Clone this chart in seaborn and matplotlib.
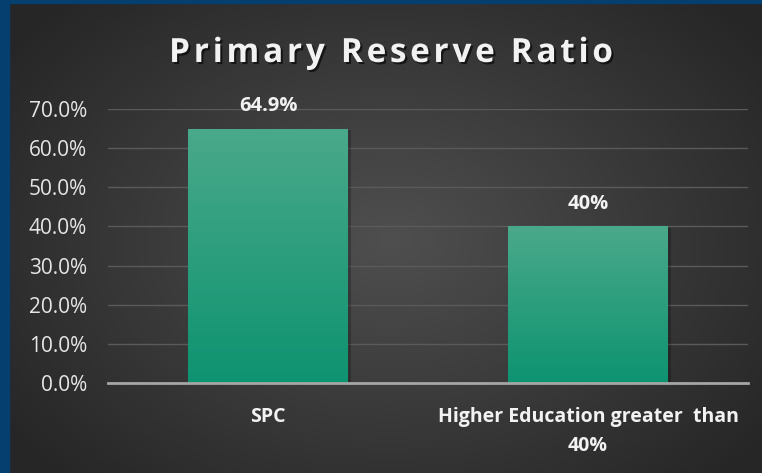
import numpy as np
import pandas as pd
import matplotlib
matplotlib.use("Agg")
import matplotlib.pyplot as plt
import seaborn as sns
from matplotlib import patheffects as pe
from matplotlib.patches import Rectangle

# data
title = "Primary Reserve Ratio"
categories = ["SPC", "Higher Education greater  than\n40%"]
values = [0.649, 0.40]
value_labels = ["64.9%", "40%"]
y_ticks = [0.0, 0.1, 0.2, 0.3, 0.4, 0.5, 0.6, 0.7]
y_tick_labels = ["0.0%", "10.0%", "20.0%", "30.0%", "40.0%", "50.0%", "60.0%", "70.0%"]

sns.set_theme(style="dark")
plt.rcParams["font.family"] = ["Open Sans", "DejaVu Sans"]

W, H = 762, 473
fig = plt.figure(figsize=(W / 100, H / 100), dpi=100)

# background: radial grey gradient + blue frame on left/top
bg = fig.add_axes([0, 0, 1, 1])
yy, xx = np.mgrid[0:H, 0:W]
r = np.sqrt(((xx - 390) / 470) ** 2 + ((yy - 240) / 330) ** 2)
shade = np.clip(0.31 - 0.16 * r, 0.15, 0.31)
bg.imshow(np.dstack([shade] * 3), extent=[0, W, H, 0], aspect="auto")
bg.add_patch(Rectangle((0, 0), 9, H, color="#053f70"))
bg.add_patch(Rectangle((0, 0), W, 3, color="#053f70"))
bg.set_xlim(0, W)
bg.set_ylim(H, 0)
bg.axis("off")

ax = fig.add_axes([108 / W, 90 / H, 640 / W, 274 / H])
ax.patch.set_alpha(0)

df = pd.DataFrame({"category": categories, "value": values})
sns.barplot(data=df, x="category", y="value", ax=ax, color="#1a9c78",
            width=0.5, saturation=1, linewidth=0, zorder=3)

# vertical gradient on each bar (lighter at top)
grad_cmap = matplotlib.colors.LinearSegmentedColormap.from_list(
    "g", ["#0e9370", "#4aa98a"])
for p in ax.patches:
    x0, y0 = p.get_x(), p.get_y()
    w, h = p.get_width(), p.get_height()
    p.set_edgecolor("none")
    p.set_path_effects([pe.SimplePatchShadow(offset=(2, -1), alpha=0.22,
                                             shadow_rgbFace="black"), pe.Normal()])
    im = ax.imshow(np.linspace(0, 1, 256).reshape(-1, 1), cmap=grad_cmap,
                   extent=[x0, x0 + w, y0, y0 + h], origin="lower",
                   aspect="auto", zorder=4)
    im.set_clip_path(p)

for i, (v, lab) in enumerate(zip(values, value_labels)):
    ax.annotate(lab, (i, v), xytext=(0, 9), textcoords="offset points",
                ha="center", va="bottom", color="#f2f2f2",
                fontsize=14.5, fontweight="bold", annotation_clip=False)

ax.set_xlim(-0.5, 1.5)
ax.set_ylim(0, 0.7)
ax.set_yticks(y_ticks)
ax.set_yticklabels(y_tick_labels)
ax.set_xticks(range(len(categories)))
ax.set_xticklabels(categories, fontweight="bold", linespacing=1.6)
ax.grid(axis="y", color="#5a5a5a", linewidth=1, zorder=0)
ax.set_axisbelow(True)
ax.tick_params(axis="y", length=0, pad=15, labelsize=15, labelcolor="#e6e6e6")
ax.tick_params(axis="x", length=0, pad=17, labelsize=14, labelcolor="#f2f2f2")
ax.set_xlabel("")
ax.set_ylabel("")
for s in ["left", "right", "top"]:
    ax.spines[s].set_visible(False)
ax.spines["bottom"].set_color("#a6a6a6")
ax.spines["bottom"].set_linewidth(2)
ax.spines["bottom"].set_zorder(5)

# title with letter spacing: place characters one by one
renderer = fig.canvas.get_renderer()
tkw = dict(fontsize=24, fontweight="bold", color="#f2f2f2", va="baseline",
           path_effects=[pe.withSimplePatchShadow(offset=(1.5, -1.5), alpha=0.6,
                                                  shadow_rgbFace="black")])

def text_w(s):
    t = fig.text(0, 0, s + "|", **tkw)
    bar = fig.text(0, 0, "|", **tkw)
    w = t.get_window_extent(renderer).width - bar.get_window_extent(renderer).width
    t.remove()
    bar.remove()
    return w

spacing = 3.7
total = text_w(title) + spacing * (len(title) - 1)
x_left = 391 - total / 2
for k, ch in enumerate(title):
    if ch == " ":
        continue
    xk = x_left + text_w(title[:k]) + spacing * k if k else x_left
    fig.text(xk / W, 1 - 62 / H, ch, ha="left", **tkw)

fig.savefig("out.png", dpi=100)
